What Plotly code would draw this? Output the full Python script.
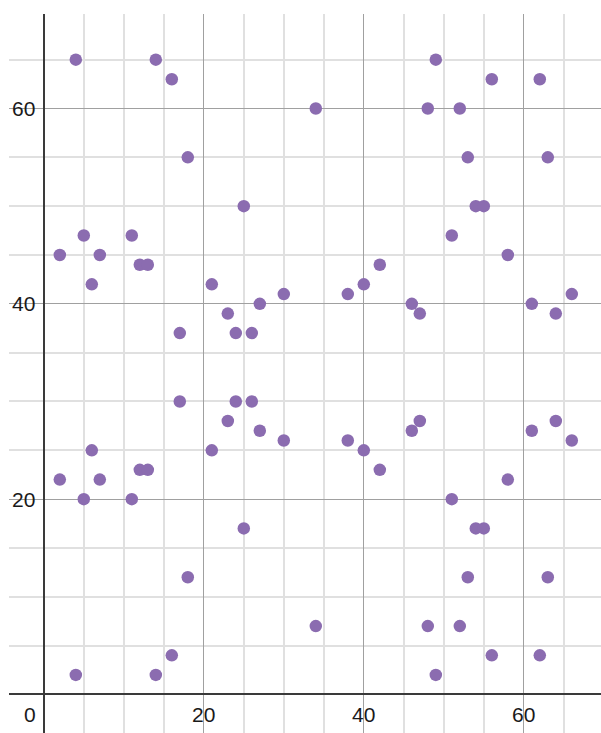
import plotly.graph_objects as go

# Data points (x, y)
x_vals = [4, 14, 16, 18, 34, 25, 2, 5, 6, 7, 11, 12, 13, 17, 21, 23, 24, 26, 27, 30,
          38, 40, 42, 46, 47, 48, 49, 52, 53, 54, 55, 56, 51, 58, 62, 63, 61, 64, 66,
          4, 14, 16, 18, 34, 25, 2, 5, 6, 7, 11, 12, 13, 17, 21, 23, 24, 26, 27, 30,
          38, 40, 42, 46, 47, 48, 49, 52, 53, 54, 55, 56, 51, 58, 62, 63, 61, 64, 66]
y_vals = [65, 65, 63, 55, 60, 50, 45, 47, 42, 45, 47, 44, 44, 37, 42, 39, 37, 37, 40, 41,
          41, 42, 44, 40, 39, 60, 65, 60, 55, 50, 50, 63, 47, 45, 63, 55, 40, 39, 41,
          2, 2, 4, 12, 7, 17, 22, 20, 25, 22, 20, 23, 23, 30, 25, 28, 30, 30, 27, 26,
          26, 25, 23, 27, 28, 7, 2, 7, 12, 17, 17, 4, 20, 22, 4, 12, 27, 28, 26]

x_tick_vals = [0, 20, 40, 60]
x_tick_text = ["0", "20", "40", "60"]
y_tick_vals = [20, 40, 60]
y_tick_text = ["20", "40", "60"]

fig = go.Figure()
fig.add_trace(go.Scatter(
    x=x_vals, y=y_vals, mode="markers",
    marker=dict(size=12.5, color="rgb(139,108,176)", line=dict(width=0)),
    hoverinfo="x+y", showlegend=False,
))

font = dict(family="Liberation Sans, Arial, sans-serif", size=21, color="#1a1a1a")
annotations = []
for v, t in zip(x_tick_vals, x_tick_text):
    if v == 0:
        annotations.append(dict(x=v, y=0, xref="x", yref="y", text=t, showarrow=False,
                                xanchor="right", yanchor="middle", xshift=-6, yshift=-20, font=font))
    else:
        annotations.append(dict(x=v, y=0, xref="x", yref="y", text=t, showarrow=False,
                                xanchor="center", yanchor="middle", yshift=-20, font=font))
for v, t in zip(y_tick_vals, y_tick_text):
    annotations.append(dict(x=0, y=v, xref="x", yref="y", text=t, showarrow=False,
                            xanchor="right", yanchor="middle", xshift=-7, font=font))

axis_common = dict(
    showticklabels=False, ticks="", showline=False,
    showgrid=True, gridcolor="#a0a0a0", gridwidth=1.2,
    zeroline=True, zerolinecolor="#3a3a3a", zerolinewidth=2,
    tick0=0, dtick=20,
    minor=dict(tick0=0, dtick=5, showgrid=True, gridcolor="#e0e0e0", gridwidth=1.5, ticks=""),
)

fig.update_layout(
    width=601, height=733,
    margin=dict(l=9, r=0, t=14, b=0),
    paper_bgcolor="white", plot_bgcolor="white",
    xaxis=dict(range=[-4.35, 69.65], **axis_common),
    yaxis=dict(range=[-3.95, 69.68], **axis_common),
    annotations=annotations,
)

fig.write_html("out.html",
               config={"displayModeBar": False},
               post_script="document.body.style.margin='0';document.body.style.overflow='hidden';")
